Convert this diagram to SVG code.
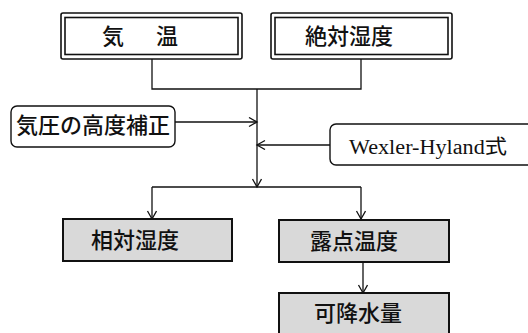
<svg xmlns="http://www.w3.org/2000/svg" width="528" height="333" viewBox="0 0 528 333">
<defs>
<style>
.jp{font-family:"Noto Sans CJK JP","Noto Sans CJK SC",sans-serif;font-size:22px;font-weight:500;fill:#111}
.dbl{fill:#fff;stroke:#111;stroke-width:1.6}
.rnd{fill:#fff;stroke:#111;stroke-width:1.4}
.gray{fill:#d9d9d9;stroke:#111;stroke-width:2}
.ln{fill:none;stroke:#111;stroke-width:1.3}
</style>
<marker id="ah" markerWidth="12" markerHeight="12" refX="9" refY="5" orient="auto" markerUnits="userSpaceOnUse" viewBox="0 0 12 12">
<polyline points="1,0.5 9,5 1,9.5" fill="none" stroke="#111" stroke-width="1.3"/>
</marker>
</defs>
<rect width="528" height="333" fill="#fff"/>
<g id="connectors">
<path class="ln" d="M152,59 V89 H361 V59"/>
<path class="ln" d="M257,89 V187" marker-end="url(#ah)"/>
<path class="ln" d="M175,122 H257" marker-end="url(#ah)"/>
<path class="ln" d="M330,145 H257" marker-end="url(#ah)"/>
<path class="ln" d="M152,187 H361"/>
<path class="ln" d="M152,187 V219" marker-end="url(#ah)"/>
<path class="ln" d="M361,187 V219" marker-end="url(#ah)"/>
<path class="ln" d="M363,262 V293" marker-end="url(#ah)"/>
</g>
<g id="node-kion">
<rect class="dbl" x="61" y="13" width="181" height="46" rx="2"/>
<rect class="dbl" x="65" y="17.5" width="173" height="37"/>
<text class="jp" x="102" y="44" letter-spacing="5">気　温</text>
</g>
<g id="node-zettai">
<rect class="dbl" x="271" y="13" width="181" height="46" rx="2"/>
<rect class="dbl" x="275" y="17.5" width="173" height="37"/>
<text class="jp" x="305" y="44">絶対湿度</text>
</g>
<g id="node-kiatsu">
<rect class="rnd" x="11" y="106" width="164" height="41" rx="6"/>
<text class="jp" x="93" y="133" text-anchor="middle" font-size="20" font-weight="400">気圧の高度補正</text>
</g>
<g id="node-wexler">
<rect class="rnd" x="330" y="124" width="210" height="41" rx="6"/>
<text x="349" y="154" font-family="'Liberation Serif','Noto Sans CJK JP',serif" font-size="20" fill="#111" textLength="158" lengthAdjust="spacingAndGlyphs">Wexler-Hyland式</text>
</g>
<g id="node-soutai">
<rect class="gray" x="63" y="219" width="169" height="42"/>
<text class="jp" x="91" y="248">相対湿度</text>
</g>
<g id="node-roten">
<rect class="gray" x="279" y="220" width="170" height="42"/>
<text class="jp" x="310" y="249">露点温度</text>
</g>
<g id="node-kakou">
<rect class="gray" x="279" y="293" width="170" height="44"/>
<text class="jp" x="314" y="321">可降水量</text>
</g>
</svg>
